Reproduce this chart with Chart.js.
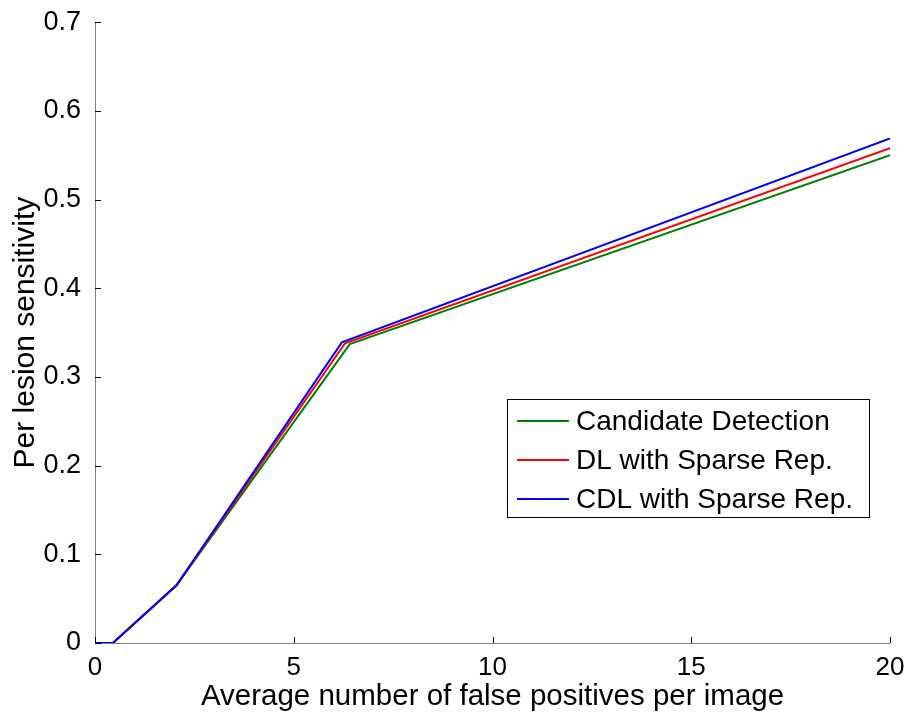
<!DOCTYPE html>
<html>
<head>
<meta charset="utf-8">
<script src="https://cdn.jsdelivr.net/npm/chart.js@4/dist/chart.umd.min.js"></script>
<style>
  html, body { margin: 0; padding: 0; background: #fff; }
  #wrap { width: 907px; height: 717px; }
</style>
</head>
<body>
<div id="wrap"><canvas id="c" width="907" height="717"></canvas></div>
<script>
// FROC curves: sensitivity vs. average false positives per image
const seriesNames = ['Candidate Detection', 'DL with Sparse Rep.', 'CDL with Sparse Rep.'];
const seriesColors = ['#008000', '#ff0000', '#0000ff'];

const candX = [0, 0.45, 2.05, 6.41, 20];
const candY = [0, 0, 0.065, 0.337, 0.550];
const dlX   = [0, 0.45, 2.05, 6.29, 20];
const dlY   = [0, 0, 0.065, 0.338, 0.558];
const cdlX  = [0, 0.45, 2.05, 6.21, 20];
const cdlY  = [0, 0, 0.065, 0.339, 0.569];

const xTicks = [0, 5, 10, 15, 20];
const yTicks = [0, 0.1, 0.2, 0.3, 0.4, 0.5, 0.6, 0.7];

const FONT = '"Liberation Sans", Arial, sans-serif';

function pts(xs, ys) { return xs.map((x, i) => ({ x: x, y: ys[i] })); }

// later series are painted on top of earlier ones
const datasets = [pts(candX, candY), pts(dlX, dlY), pts(cdlX, cdlY)].map((d, i) => ({
  label: seriesNames[i],
  data: d,
  order: 2 - i,
  borderColor: seriesColors[i],
  backgroundColor: seriesColors[i],
  borderWidth: 2,
  pointRadius: 0,
  tension: 0,
  fill: false
}));

// Axis lines and inward-pointing ticks, MATLAB style
const axesPlugin = {
  id: 'matlabAxes',
  afterDatasetsDraw(chart) {
    const { ctx, chartArea: a, scales: { x, y } } = chart;
    ctx.save();
    ctx.strokeStyle = '#808080';
    ctx.lineWidth = 1;
    ctx.beginPath();
    ctx.moveTo(a.left + 0.5, a.top);
    ctx.lineTo(a.left + 0.5, a.bottom + 0.5);
    ctx.lineTo(a.right, a.bottom + 0.5);
    ctx.stroke();
    ctx.strokeStyle = '#000';
    ctx.beginPath();
    xTicks.forEach(v => {
      const px = Math.round(x.getPixelForValue(v)) + 0.5;
      ctx.moveTo(px, a.bottom);
      ctx.lineTo(px, a.bottom - 6);
    });
    yTicks.forEach(v => {
      const py = Math.round(y.getPixelForValue(v)) + 0.5;
      ctx.moveTo(a.left, py);
      ctx.lineTo(a.left + 6, py);
    });
    ctx.stroke();
    ctx.restore();
  }
};

// Boxed legend inside the plot area
const legendPlugin = {
  id: 'boxLegend',
  afterDraw(chart) {
    const { ctx } = chart;
    const left = 507, top = 399, right = 869, bottom = 517;
    ctx.save();
    ctx.fillStyle = '#fff';
    ctx.fillRect(left, top, right - left, bottom - top);
    ctx.strokeStyle = '#000';
    ctx.lineWidth = 1;
    ctx.strokeRect(left + 0.5, top + 0.5, right - left, bottom - top);
    ctx.font = '28px ' + FONT;
    ctx.textBaseline = 'middle';
    ctx.textAlign = 'left';
    const rows = [421, 460, 499];
    chart.data.datasets.forEach((ds, i) => {
      ctx.strokeStyle = ds.borderColor;
      ctx.lineWidth = 2;
      ctx.beginPath();
      ctx.moveTo(517, rows[i]);
      ctx.lineTo(569, rows[i]);
      ctx.stroke();
      ctx.fillStyle = '#000';
      ctx.fillText(ds.label, 576, rows[i] + 1);
    });
    ctx.restore();
  }
};

new Chart(document.getElementById('c'), {
  type: 'line',
  data: { datasets: datasets },
  options: {
    responsive: false,
    animation: false,
    layout: { padding: { top: 15, right: 17, left: 0, bottom: 0 } },
    plugins: { legend: { display: false }, tooltip: { enabled: false } },
    scales: {
      x: {
        type: 'linear',
        min: 0, max: 20,
        afterFit(s) { s.height = 74; },
        afterBuildTicks(s) { s.ticks = xTicks.map(v => ({ value: v })); },
        grid: { display: false },
        border: { display: false },
        ticks: {
          color: '#000',
          font: { family: FONT, size: 26 },
          padding: 1,
          maxRotation: 0
        },
        title: {
          display: true,
          text: 'Average number of false positives per image',
          color: '#000',
          font: { family: FONT, size: 29.5 },
          padding: { top: 0, bottom: 2 }
        }
      },
      y: {
        type: 'linear',
        min: 0, max: 0.7,
        afterFit(s) { s.width = 95; },
        afterBuildTicks(s) { s.ticks = yTicks.map(v => ({ value: v })); },
        grid: { display: false },
        border: { display: false },
        ticks: {
          color: '#000',
          font: { family: FONT, size: 27 },
          padding: 6,
          callback: v => (v === 0 ? '0' : v.toFixed(1))
        },
        title: {
          display: true,
          text: 'Per lesion sensitivity',
          color: '#000',
          font: { family: FONT, size: 30 },
          padding: { top: 8, bottom: 0 }
        }
      }
    }
  },
  plugins: [axesPlugin, legendPlugin]
});
</script>
</body>
</html>
